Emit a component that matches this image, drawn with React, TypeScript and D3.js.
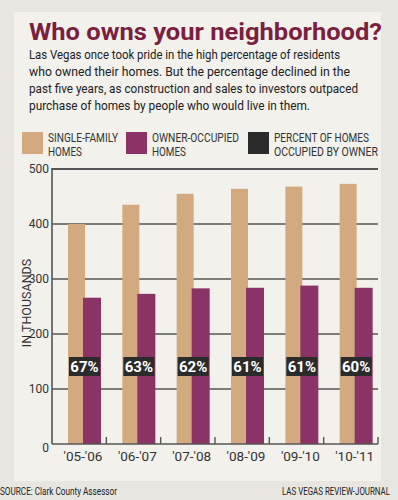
import React from 'react';
import { scaleBand, scaleLinear } from 'd3';

const periods = ["'05-'06", "'06-'07", "'07-'08", "'08-'09", "'09-'10", "'10-'11"];
const singleFamily = [400, 435, 455, 464, 468, 473];
const ownerOccupied = [266, 273, 283, 284, 288, 284];
const percentOwned = [67, 63, 62, 61, 61, 60];
const yTicks = [0, 100, 200, 300, 400, 500];

const intro = [
  ['Las Vegas once took pride in the high percentage of residents', 311],
  ['who owned their homes. But the percentage declined in the', 321],
  ['past five years, as construction and sales to investors outpaced', 329],
  ['purchase of homes by people who would live in them.', 281],
];

const TAN = '#d3aa80';
const PURPLE = '#8b3366';
const DARK = '#2b2b2b';
const FONT = "'Liberation Sans Narrow', 'Roboto', sans-serif";

export default function App() {
  const x = scaleBand<string>().domain(periods).range([52, 378]);
  const y = scaleLinear().domain([0, 500]).range([444, 169]);
  const bw = x.bandwidth();

  return (
    <svg width={398} height={500} style={{ position: 'absolute', left: 0, top: 0 }} fontFamily={FONT}>
      <rect width={398} height={500} fill="#e8e6e0" />
      <rect x={14} y={12} width={367} height={469} fill="#f2f1ec" />

      <text x={29} y={40} fontSize={24} fontWeight="bold" fill="#7b1f40"
        textLength={353} lengthAdjust="spacingAndGlyphs" fontFamily="Roboto, sans-serif">
        Who owns your neighborhood?
      </text>
      {intro.map(([t, w], i) => (
        <text key={i} x={29} y={59 + i * 17} fontSize={13} fill="#222"
          textLength={w as number} lengthAdjust="spacingAndGlyphs">{t}</text>
      ))}

      {/* legend */}
      <rect x={22} y={132} width={21} height={22} fill={TAN} />
      <text fontSize={12.5} fill="#333">
        <tspan x={48} y={142} textLength={70} lengthAdjust="spacingAndGlyphs">SINGLE-FAMILY</tspan>
        <tspan x={48} y={156} textLength={34} lengthAdjust="spacingAndGlyphs">HOMES</tspan>
      </text>
      <rect x={126} y={132} width={21} height={22} fill={PURPLE} />
      <text fontSize={12.5} fill="#333">
        <tspan x={152} y={142} textLength={87} lengthAdjust="spacingAndGlyphs">OWNER-OCCUPIED</tspan>
        <tspan x={152} y={156} textLength={34} lengthAdjust="spacingAndGlyphs">HOMES</tspan>
      </text>
      <rect x={248} y={132} width={21} height={22} fill={DARK} />
      <text fontSize={12.5} fill="#333">
        <tspan x={274} y={142} textLength={95} lengthAdjust="spacingAndGlyphs">PERCENT OF HOMES</tspan>
        <tspan x={274} y={156} textLength={104} lengthAdjust="spacingAndGlyphs">OCCUPIED BY OWNER</tspan>
      </text>

      {/* grid */}
      {yTicks.map(t => (
        <g key={t}>
          {t > 0 && <line x1={52} x2={378} y1={y(t)} y2={y(t)} stroke="#555" strokeWidth={t === 500 ? 1.8 : 1.4} />}
          <text x={49} y={y(t) + (t === 0 ? 8 : 4)} textAnchor="end" fontSize={12} fill="#333">{t}</text>
        </g>
      ))}
      <text transform="translate(31,303) rotate(-90)" textAnchor="middle" fontSize={12.5} fill="#333">IN THOUSANDS</text>

      {/* bars */}
      {periods.map((p, i) => {
        const x0 = x(p) as number;
        return (
          <g key={p}>
            <rect x={x0 + 16} y={y(singleFamily[i])} width={17} height={y(0) - y(singleFamily[i])} fill={TAN} />
            <rect x={x0 + 31} y={y(ownerOccupied[i])} width={18} height={y(0) - y(ownerOccupied[i])} fill={PURPLE} />
            <rect x={x0 + 17} y={357} width={31} height={19} fill={DARK} />
            <text x={x0 + 32.5} y={372} textAnchor="middle" fontSize={15} fontWeight="bold" fill="#fff">
              {percentOwned[i]}%
            </text>
            <text x={x0 + 31} y={461} textAnchor="middle" fontSize={13.5} fill="#333">{p}</text>
          </g>
        );
      })}

      {/* axes */}
      <line x1={52} x2={52} y1={168} y2={444} stroke="#555" strokeWidth={1.6} />
      <line x1={52} x2={378} y1={444} y2={444} stroke="#555" strokeWidth={1.6} />
      {periods.map(p => (
        <line key={p} x1={(x(p) as number) + bw} x2={(x(p) as number) + bw} y1={437} y2={444} stroke="#555" strokeWidth={1.4} />
      ))}

      <text x={0} y={495} fontSize={11} fill="#222" textLength={117} lengthAdjust="spacingAndGlyphs">SOURCE: Clark County Assessor</text>
      <text transform="translate(282,495) scale(0.72,1)" fontSize={11} fill="#222"
        textLength={150} lengthAdjust="spacingAndGlyphs">LAS VEGAS REVIEW-JOURNAL</text>
    </svg>
  );
}
